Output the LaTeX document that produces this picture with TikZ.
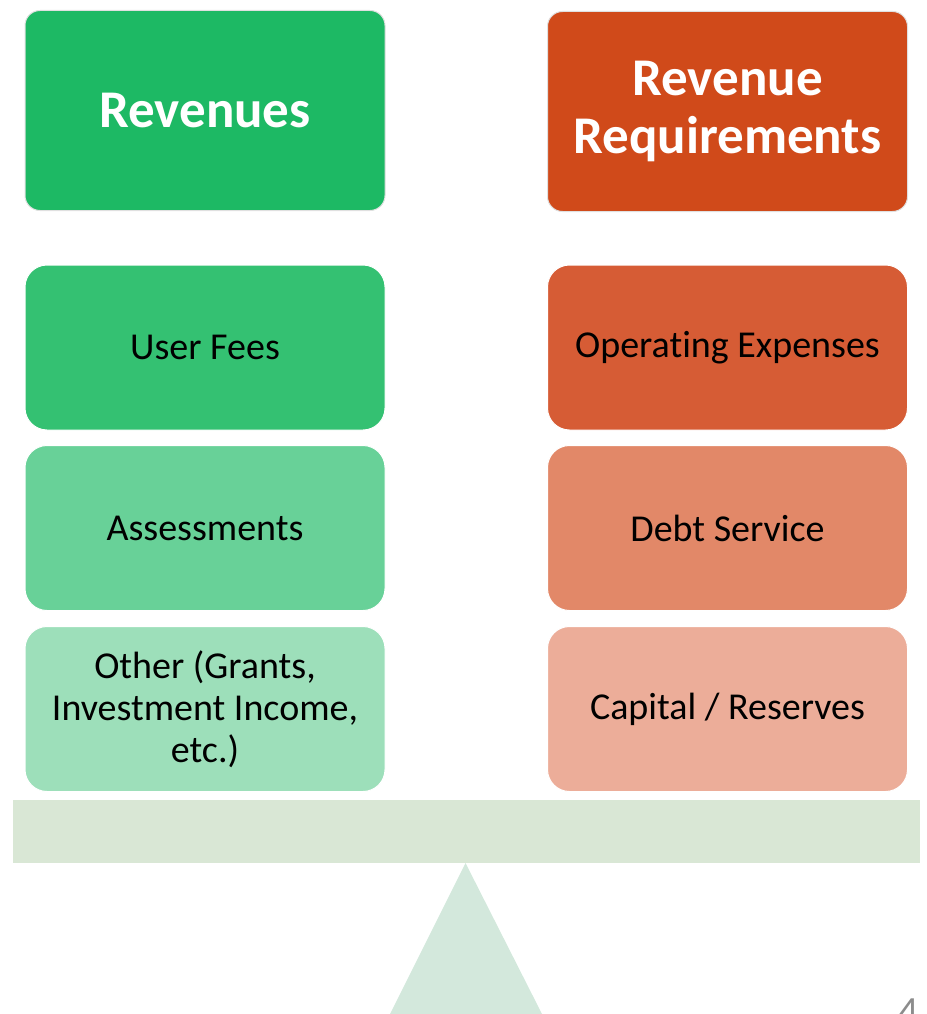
\documentclass[tikz,border=0pt]{standalone}
\usepackage{fontspec}
\setmainfont[Ligatures=NoCommon]{Carlito}
\definecolor{revhead}{HTML}{1DB964}
\definecolor{reqhead}{HTML}{D04A1A}
\definecolor{revone}{HTML}{34C172}
\definecolor{revtwo}{HTML}{68D198}
\definecolor{revthree}{HTML}{9DDFBA}
\definecolor{reqone}{HTML}{D65C35}
\definecolor{reqtwo}{HTML}{E28868}
\definecolor{reqthree}{HTML}{ECAD99}
\definecolor{beam}{HTML}{D9E7D5}
\definecolor{pivot}{HTML}{D3E8DC}
\begin{document}
\begin{tikzpicture}[x=1pt, y=-1pt,
		head/.style={rounded corners=15pt, draw=black!12, line width=1pt, minimum width=360pt, minimum height=200pt, inner sep=0pt, align=center, text=white, font=\fontsize{53}{58}\selectfont\bfseries},
		item/.style={rounded corners=22pt, draw=white, line width=1pt, minimum width=360pt, minimum height=165pt, inner sep=0pt, align=center, font=\fontsize{38}{42}\selectfont}]
		\useasboundingbox (0,0) rectangle (926,1014);
		\clip (0,0) rectangle (926,1014);
		% Headers
		\node[head, fill=revhead] (Revenues) at (205,110.5) {Revenues};
		\node[head, fill=reqhead] (Requirements) at (727.5,111.5) {Revenue\\Requirements};
		% Revenue items
		\node[item, fill=revone] (User fees) at (205,347.5) {User Fees};
		\node[item, fill=revtwo] (Assessments) at (205,528) {Assessments};
		\node[item, fill=revthree] (Other) at (205,709) {Other (Grants,\\Investment Income,\\etc.)};
		% Requirement items
		\node[item, fill=reqone] (Operating) at (727.5,347.5) {Operating Expenses};
		\node[item, fill=reqtwo] (Debt) at (727.5,528) {Debt Service};
		\node[item, fill=reqthree] (Capital) at (727.5,709) {Capital / Reserves};
		% Scale
		\fill[beam] (13,800) rectangle (920,863);
		\fill[pivot] (465.5,863) -- (542,1014) -- (390,1014) -- cycle;
		\node[anchor=base, text=black!45, font=\fontsize{40}{40}\selectfont] (Page) at (909,1024) {4};
	\end{tikzpicture}
\end{document}
